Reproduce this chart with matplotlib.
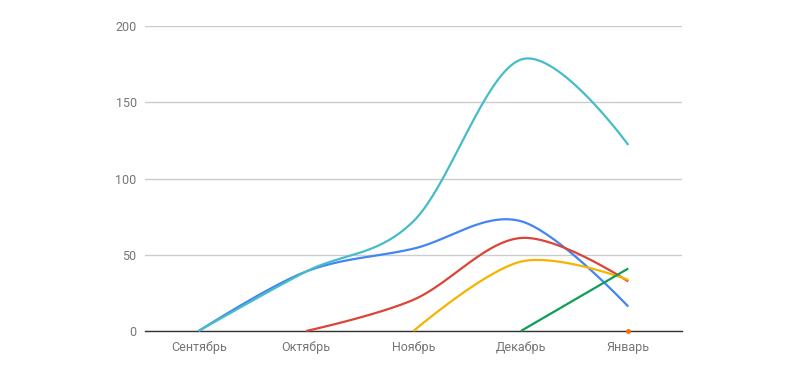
import numpy as np
import matplotlib
matplotlib.use("Agg")
import matplotlib.pyplot as plt

# -------------------------------
# Data (None = no value for that month)
# -------------------------------
months = ["Сентябрь", "Октябрь", "Ноябрь", "Декабрь", "Январь"]

blue_vals = [0, 39, 54, 72, 16]
red_vals = [None, 0, 20.5, 61, 32.5]
yellow_vals = [None, None, 0, 45.5, 33.5]
green_vals = [None, None, None, 0, 41]
orange_vals = [None, None, None, None, 0]
teal_vals = [0, 39, 72, 178, 122]

series = [
    (blue_vals, "#4285f4"),
    (red_vals, "#db4437"),
    (yellow_vals, "#f4b400"),
    (green_vals, "#0f9d58"),
    (orange_vals, "#ff6d00"),
    (teal_vals, "#46bdc6"),
]

y_ticks = [0, 50, 100, 150, 200]


def smooth(xs, ys, n=40):
    # catmull-rom style bezier, endpoints use the point itself as control
    xs = np.asarray(xs, float)
    ys = np.asarray(ys, float)
    out_x, out_y = [], []
    m = len(xs)
    for i in range(m - 1):
        p0 = np.array([xs[i], ys[i]])
        p3 = np.array([xs[i + 1], ys[i + 1]])
        if i > 0:
            c1 = p0 + (p3 - np.array([xs[i - 1], ys[i - 1]])) / 6
        else:
            c1 = p0
        if i + 2 < m:
            c2 = p3 - (np.array([xs[i + 2], ys[i + 2]]) - p0) / 6
        else:
            c2 = p3
        t = np.linspace(0, 1, n)[:, None]
        pts = ((1 - t) ** 3) * p0 + 3 * t * (1 - t) ** 2 * c1 + 3 * t ** 2 * (1 - t) * c2 + t ** 3 * p3
        out_x.extend(pts[:, 0])
        out_y.extend(pts[:, 1])
    return out_x, out_y


fig = plt.figure(figsize=(8, 3.71), dpi=100)
ax = fig.add_axes([145 / 800, 40 / 371, 537 / 800, 305 / 371])

for vals, color in series:
    xs = [i for i, v in enumerate(vals) if v is not None]
    ys = [v for v in vals if v is not None]
    if len(xs) == 1:
        ax.plot(xs, ys, "o", color=color, markersize=2.5, clip_on=False, zorder=4)
        continue
    sx, sy = smooth(xs, ys)
    ax.plot(sx, sy, color=color, linewidth=1.6, clip_on=False, zorder=3,
            solid_capstyle="butt")

ax.set_xlim(-0.5, len(months) - 0.5)
ax.set_ylim(0, 200)
ax.set_xticks(range(len(months)))
ax.set_xticklabels(months)
ax.set_yticks(y_ticks)

ax.grid(axis="y", color="#cccccc", linewidth=1)
ax.set_axisbelow(True)
for side in ["top", "right", "left"]:
    ax.spines[side].set_visible(False)
ax.spines["bottom"].set_color("#333333")
ax.spines["bottom"].set_linewidth(1)
ax.spines["bottom"].set_zorder(2)

ax.tick_params(length=0, labelsize=9, labelcolor="#757575")
ax.tick_params(axis="x", pad=7)
ax.tick_params(axis="y", pad=6)
for lab in ax.get_xticklabels() + ax.get_yticklabels():
    lab.set_fontfamily("Roboto")

fig.savefig("out.png", dpi=100)
